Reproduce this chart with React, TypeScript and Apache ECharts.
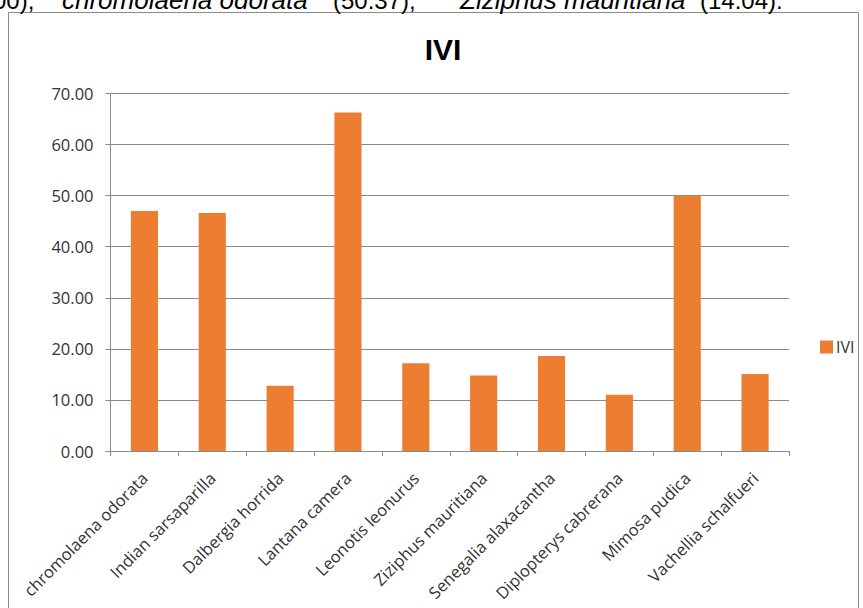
import React, { useEffect, useRef } from "react";
import * as echarts from "echarts";

const categories = [
  "chromolaena odorata",
  "Indian sarsaparilla",
  "Dalbergia horrida",
  "Lantana camera",
  "Leonotis leonurus",
  "Ziziphus mauritiana",
  "Senegalia alaxacantha",
  "Diplopterys cabrerana",
  "Mimosa pudica",
  "Vachellia schalfueri",
];
const iviValues = [47.0, 46.6, 12.8, 66.3, 17.2, 14.8, 18.6, 11.0, 50.0, 15.1];
const seriesName = "IVI";
const chartTitle = "IVI";

export default function App() {
  const ref = useRef<HTMLDivElement>(null);
  useEffect(() => {
    if (!ref.current) return;
    const chart = echarts.init(ref.current, undefined, { renderer: "svg" });
    const font = "'Open Sans', 'Liberation Sans', sans-serif";
    const topText = (text: string, x: number, italic: boolean, size: number) => ({
      type: "text",
      x,
      y: 0,
      style: {
        text,
        font: (italic ? "italic " : "") + size + "px 'Liberation Sans', Arial",
        fill: "#000",
        textVerticalAlign: "middle",
      },
    });
    chart.setOption({
      animation: false,
      backgroundColor: "#ffffff",
      graphic: [
        {
          type: "rect",
          shape: { x: 8.5, y: 12.5, width: 850, height: 610 },
          style: { fill: "none", stroke: "#8a8a8a", lineWidth: 1 },
          silent: true,
        },
        topText("00),", -7, false, 24),
        topText("chromolaena odorata", 62, true, 26),
        topText("(50.37),", 333, false, 24),
        topText("Ziziphus mauritiana", 460, true, 26),
        topText("(14.04).", 700, false, 24),
        {
          type: "text",
          x: 443,
          y: 49,
          style: {
            text: chartTitle,
            font: "bold 30px 'Liberation Sans', Arial",
            fill: "#000",
            textAlign: "center",
            textVerticalAlign: "middle",
          },
        },
      ],
      legend: {
        left: 820,
        top: 339,
        padding: 0,
        itemWidth: 13,
        itemHeight: 13,
        itemGap: 4,
        icon: "rect",
        textStyle: { fontSize: 16, color: "#333", fontFamily: font, padding: [0, 0, 0, -2] },
        data: [seriesName],
      },
      grid: { left: 110.5, right: 74, top: 93.5, bottom: 157, containLabel: false },
      xAxis: {
        type: "category",
        data: categories,
        axisLine: { lineStyle: { color: "#8a8a8a" } },
        axisTick: { show: true, length: 5, alignWithLabel: false, lineStyle: { color: "#8a8a8a" } },
        axisLabel: {
          interval: 0,
          rotate: 45,
          margin: 24,
          fontSize: 16.5,
          color: "#333",
          fontFamily: font,
        },
      },
      yAxis: {
        type: "value",
        min: 0,
        max: 70,
        interval: 10,
        axisLine: { show: true, lineStyle: { color: "#8a8a8a" } },
        axisTick: { show: true, length: 5, inside: false, lineStyle: { color: "#8a8a8a" } },
        axisLabel: {
          margin: 17,
          fontSize: 16.5,
          color: "#333",
          fontFamily: font,
          formatter: (v: number) => v.toFixed(2),
        },
        splitLine: { show: true, lineStyle: { color: "#8a8a8a", width: 1 } },
      },
      series: [
        {
          name: seriesName,
          type: "bar",
          data: iviValues,
          barWidth: "40%",
          itemStyle: { color: "#ED7D31" },
        },
      ],
    });
    return () => chart.dispose();
  }, []);
  return (
    <div
      ref={ref}
      style={{ position: "fixed", left: 0, top: 0, width: 863, height: 608 }}
    />
  );
}
